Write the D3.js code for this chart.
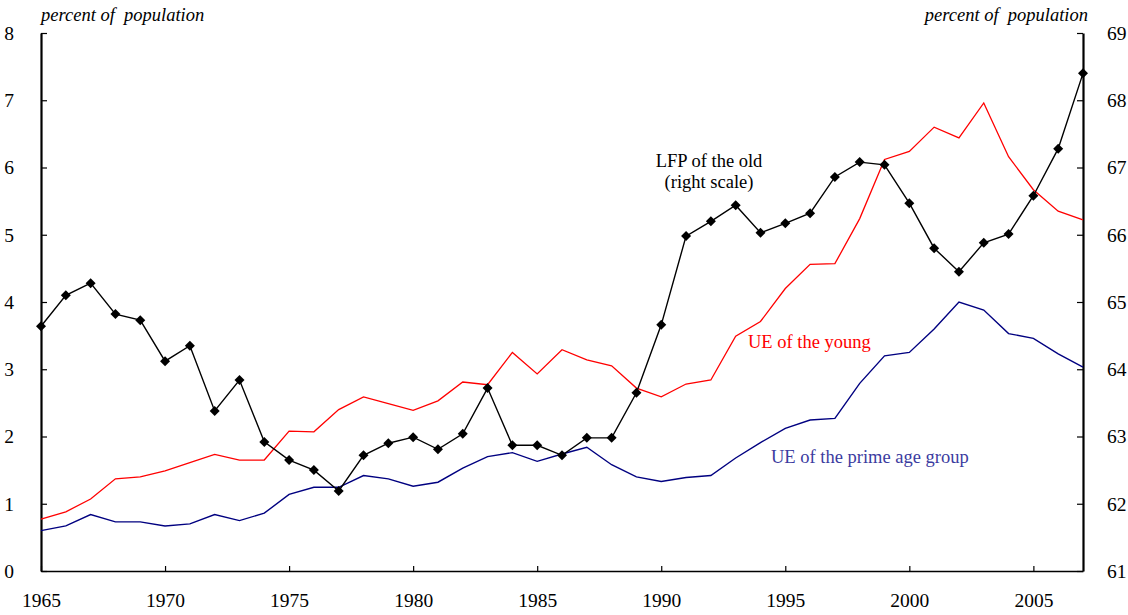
<!DOCTYPE html>
<html>
<head>
<meta charset="utf-8">
<title>Unemployment and LFP</title>
<script src="https://d3js.org/d3.v7.min.js"></script>
<style>
body { margin: 0; background: #fff; }
text { font-family: "Liberation Serif", "Times New Roman", serif; }
.axis path, .axis line { stroke: #000; }
.axis text { font-size: 19.5px; fill: #000; font-family: "Liberation Serif", serif; }
.line { fill: none; }
</style>
</head>
<body>
<script>

// data
var years = d3.range(1965, 2008);
var ueYoung = [0.77, 0.88, 1.07, 1.37, 1.40, 1.49, 1.61, 1.735, 1.65, 1.65,
  2.08, 2.07, 2.40, 2.59, 2.49, 2.39, 2.53, 2.81, 2.77, 3.25,
  2.93, 3.29, 3.14, 3.05, 2.72, 2.59, 2.78, 2.84, 3.49, 3.71,
  4.20, 4.56, 4.57, 5.24, 6.12, 6.24, 6.60, 6.44, 6.96, 6.16,
  5.67, 5.35, 5.22];
var uePrime = [0.60, 0.67, 0.84, 0.73, 0.73, 0.67, 0.70, 0.84, 0.75, 0.86,
  1.14, 1.245, 1.245, 1.42, 1.37, 1.26, 1.32, 1.53, 1.70, 1.76,
  1.63, 1.74, 1.84, 1.58, 1.40, 1.33, 1.39, 1.42, 1.68, 1.91,
  2.12, 2.245, 2.27, 2.79, 3.20, 3.25, 3.60, 4.00, 3.88, 3.53,
  3.46, 3.23, 3.03];
var lfpOld = [64.64, 65.10, 65.28, 64.82, 64.73, 64.12, 64.35, 63.38, 63.84, 62.92,
  62.65, 62.50, 62.19, 62.72, 62.90, 62.99, 62.81, 63.04, 63.72, 62.87,
  62.87, 62.72, 62.98, 62.98, 63.65, 64.66, 65.98, 66.20, 66.44, 66.03,
  66.17, 66.32, 66.86, 67.08, 67.04, 66.47, 65.80, 65.45, 65.88, 66.01,
  66.58, 67.28, 68.40];
var xTicks = [1965, 1970, 1975, 1980, 1985, 1990, 1995, 2000, 2005];
var leftTicks = [0, 1, 2, 3, 4, 5, 6, 7, 8];
var rightTicks = [61, 62, 63, 64, 65, 66, 67, 68, 69];

var width = 1128, height = 615;
var plotLeft = 41, plotRight = 1083, plotTop = 33, plotBottom = 571;

var svg = d3.select("body").append("svg")
    .attr("width", width)
    .attr("height", height);

var x = d3.scaleLinear().domain([1965, 2007]).range([plotLeft, plotRight]);
var yL = d3.scaleLinear().domain([0, 8]).range([plotBottom, plotTop]);
var yR = d3.scaleLinear().domain([61, 69]).range([plotBottom, plotTop]);

// axes
var xAxis = svg.append("g").attr("class", "axis")
    .attr("transform", "translate(0," + plotBottom + ")")
    .call(d3.axisBottom(x).tickValues(xTicks).tickFormat(d3.format("d"))
      .tickSizeInner(-5).tickSizeOuter(0).tickPadding(22));
xAxis.select(".domain").attr("stroke-width", 1.6);
xAxis.selectAll("line").attr("stroke-width", 1.2);

var lAxis = svg.append("g").attr("class", "axis")
    .attr("transform", "translate(" + plotLeft + ",0)")
    .call(d3.axisLeft(yL).tickValues(leftTicks)
      .tickSizeInner(-6).tickSizeOuter(0).tickPadding(27));
lAxis.select(".domain").attr("stroke-width", 2.2);
lAxis.selectAll("line").attr("stroke-width", 1.2);

var rAxis = svg.append("g").attr("class", "axis")
    .attr("transform", "translate(" + plotRight + ",0)")
    .call(d3.axisRight(yR).tickValues(rightTicks)
      .tickSizeInner(-6).tickSizeOuter(0).tickPadding(24));
rAxis.select(".domain").attr("stroke-width", 2.2);
rAxis.selectAll("line").attr("stroke-width", 1.2);

// series
var lineL = d3.line().x(function(d, i) { return x(years[i]); }).y(function(d) { return yL(d); });
var lineR = d3.line().x(function(d, i) { return x(years[i]); }).y(function(d) { return yR(d); });

svg.append("path").datum(ueYoung).attr("class", "line")
    .attr("stroke", "#ff0000").attr("stroke-width", 1.3).attr("d", lineL);
svg.append("path").datum(uePrime).attr("class", "line")
    .attr("stroke", "#000080").attr("stroke-width", 1.4).attr("d", lineL);
svg.append("path").datum(lfpOld).attr("class", "line")
    .attr("stroke", "#000").attr("stroke-width", 1.4).attr("d", lineR);

var diamond = d3.symbol().type(d3.symbolSquare).size(50);
svg.selectAll("path.mark")
    .data(lfpOld)
  .enter().append("path")
    .attr("class", "mark")
    .attr("d", diamond)
    .attr("fill", "#000")
    .attr("transform", function(d, i) {
      return "translate(" + x(years[i]) + "," + yR(d) + ") rotate(45)";
    });

// labels
svg.append("text").attr("x", plotLeft).attr("y", 21)
    .style("font-size", "18.5px").style("font-style", "italic")
    .attr("xml:space", "preserve").text("percent of  population");
svg.append("text").attr("x", plotRight + 5).attr("y", 21)
    .attr("text-anchor", "end")
    .style("font-size", "18.5px").style("font-style", "italic")
    .attr("xml:space", "preserve").text("percent of  population");

svg.append("text").attr("x", 709).attr("y", 167).attr("text-anchor", "middle")
    .style("font-size", "18.5px").text("LFP of the old");
svg.append("text").attr("x", 709).attr("y", 188).attr("text-anchor", "middle")
    .style("font-size", "18.5px").text("(right scale)");
svg.append("text").attr("x", 748).attr("y", 348)
    .style("font-size", "18.5px").attr("fill", "#ff0000").text("UE of the young");
svg.append("text").attr("x", 771).attr("y", 463)
    .style("font-size", "18.5px").attr("fill", "#3b3ba0").text("UE of the prime age group");

</script>
</body>
</html>
